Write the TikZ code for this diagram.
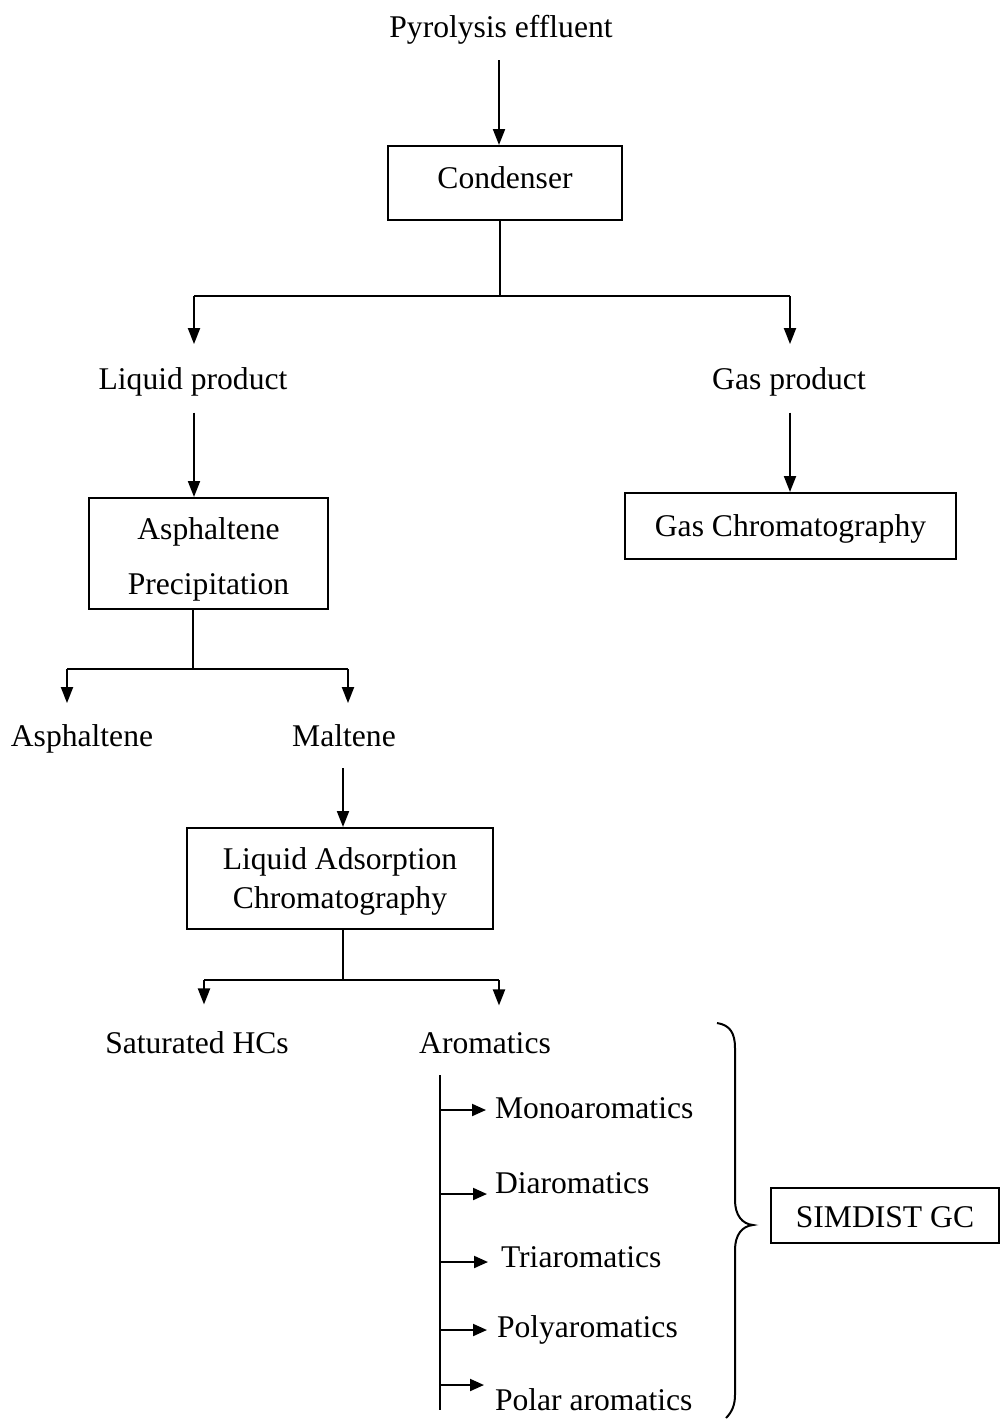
\documentclass[tikz,border=0pt]{standalone}
\usepackage{fontspec}
\setmainfont{Liberation Serif}
\usetikzlibrary{arrows.meta}
\newcommand\diafont{\fontsize{15.8}{19}\selectfont}
\newcommand\mvtxt[2]{\raisebox{#1}[\height][\depth]{#2}}
\begin{document}
\begin{tikzpicture}[x=0.5pt,y=-0.5pt,line width=1pt,
 txt/.style={inner sep=0pt,anchor=base,font=\diafont},
 ltxt/.style={inner sep=0pt,anchor=base west,font=\diafont},
 box/.style={draw,line width=1pt,inner sep=0pt,font=\diafont,align=center},
 arr/.style={-{Triangle[length=8pt,width=6pt]}},
 sarr/.style={-{Triangle[length=7pt,width=6pt]}}]
\useasboundingbox (0,0) rectangle (1001,1420);

% nodes
\node[txt] (pyro) at (501,37) {Pyrolysis effluent};
\node[box,minimum width=117pt,minimum height=37pt] (cond) at (505,183) {\mvtxt{2.5pt}{Condenser}};
\node[txt] (liq) at (193,389) {Liquid product};
\node[txt] (gas) at (789,389) {Gas product};
\node[box,minimum width=119.5pt,minimum height=55.5pt] (app) at (208.5,553.5) {\mvtxt{-3pt}{Asphaltene}\\[8.5pt]\mvtxt{-3pt}{Precipitation}};
\node[box,minimum width=165.5pt,minimum height=33pt] (gc) at (790.5,526) {\mvtxt{-1.5pt}{Gas Chromatography}};
\node[txt] (asp) at (82,746) {Asphaltene};
\node[txt] (mal) at (344,746) {Maltene};
\node[box,minimum width=153pt,minimum height=50.5pt] (lac) at (340,878.5) {\mvtxt{-1.5pt}{Liquid Adsorption}\\[0.5pt]\mvtxt{-1.5pt}{Chromatography}};
\node[txt] (sat) at (197,1053) {Saturated HCs};
\node[txt] (aro) at (485,1053) {Aromatics};
\node[ltxt] (mono) at (494,1118) {Monoaromatics};
\node[ltxt] (dia) at (494,1193) {Diaromatics};
\node[ltxt] (tri) at (500,1267) {Triaromatics};
\node[ltxt] (poly) at (496,1337) {Polyaromatics};
\node[ltxt] (polar) at (494,1410) {Polar aromatics};
\node[box,minimum width=114pt,minimum height=27.5pt] (simd) at (885,1215.5) {\mvtxt{-1pt}{SIMDIST GC}};

% coordinates
\coordinate (p0) at (499,60);
\coordinate (c1) at (500,296);
\coordinate (cL) at (194,296);
\coordinate (cG) at (790,296);
\coordinate (c2) at (193,669);
\coordinate (aL) at (67,669);
\coordinate (aR) at (348,669);
\coordinate (c3) at (343,980);
\coordinate (sL) at (204,980);
\coordinate (sR) at (499,980);
\coordinate (v0) at (440,1075);
\coordinate (v1) at (440,1410);
\coordinate (m1) at (486,1110);
\coordinate (m2) at (487,1194);
\coordinate (m3) at (488,1262);
\coordinate (m4) at (487,1330);
\coordinate (m5) at (484,1385);

% connectors
\draw[arr] (p0) -- (p0 |- cond.north);
\draw (c1 |- cond.south) -- (c1);
\draw (cL) -- (cG);
\draw[arr,shorten >=11pt] (cL) -- (cL |- liq.north);
\draw[arr,shorten >=11pt] (cG) -- (cG |- gas.north);
\draw[arr] ([yshift=-8pt]cL |- liq.south) -- (cL |- app.north);
\draw[arr] ([yshift=-8pt]cG |- gas.south) -- (cG |- gc.north);
\draw (c2 |- app.south) -- (c2);
\draw (aL) -- (aR);
\draw[arr,shorten >=10pt] (aL) -- (aL |- asp.north);
\draw[arr,shorten >=10pt] (aR) -- (aR |- mal.north);
\draw[arr] ([yshift=-10.5pt]c3 |- mal.south) -- (c3 |- lac.north);
\draw (c3 |- lac.south) -- (c3);
\draw (sL) -- (sR);
\draw[arr,shorten >=12.8pt] (sL) -- (sL |- sat.north);
\draw[arr,shorten >=12.8pt] (sR) -- (sR |- aro.north);
\draw (v0) -- (v1);
\draw[sarr] (v0 |- m1) -- (m1);
\draw[sarr] (v0 |- m2) -- (m2);
\draw[sarr] (v0 |- m3) -- (m3);
\draw[sarr] (v0 |- m4) -- (m4);
\draw[sarr] (v0 |- m5) -- (m5);

% brace
\draw (717,1023) .. controls (730,1025) and (735,1033) .. (735,1048)
  -- (735,1200) .. controls (735,1215) and (742,1224) .. (753,1225)
  .. controls (742,1226) and (735,1235) .. (735,1250)
  -- (735,1395) .. controls (735,1405) and (732,1412) .. (726,1418);
\end{tikzpicture}
\end{document}
